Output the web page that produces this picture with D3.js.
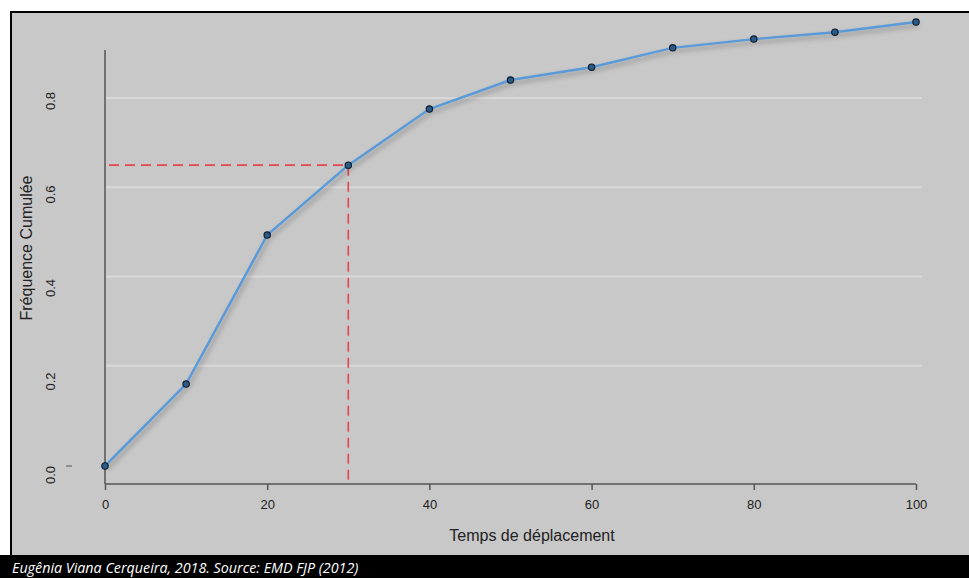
<!DOCTYPE html>
<html><head><meta charset="utf-8">
<script src="https://cdn.jsdelivr.net/npm/d3@7"></script>
<style>html,body{margin:0;padding:0;background:#fff;}svg{display:block;}</style>
</head><body>
<script>
const times = [0,10,20,30,40,50,60,70,80,90,100];
const cumFreq = [0.0,0.178,0.502,0.654,0.776,0.839,0.867,0.909,0.928,0.943,0.965];
const xTicks = [0,20,40,60,80,100];
const yTicks = [0.0,0.2,0.4,0.6,0.8];
const gridLevels = [0.2,0.4,0.6,0.8];
const refX = 30, refY = 0.654;
const xTitle = "Temps de déplacement";
const yTitle = "Fréquence Cumulée";
const caption = "Eugênia Viana Cerqueira, 2018. Source: EMD FJP (2012)";

const W = 969, H = 578;
const FONT = "'Liberation Sans', Arial, Helvetica, sans-serif";
const svg = d3.select("body").append("svg").attr("width", W).attr("height", H);
const defs = svg.append("defs");
const f = defs.append("filter").attr("id","sh").attr("x","-10%").attr("y","-10%").attr("width","130%").attr("height","130%");
f.append("feDropShadow").attr("dx",2).attr("dy",3).attr("stdDeviation",2.5).attr("flood-color","#000").attr("flood-opacity",0.3);

// panel
svg.append("rect").attr("x",11).attr("y",12).attr("width",W-11).attr("height",545).attr("fill","#c8c8c8");
svg.append("path").attr("d",`M11,${H} V12 H${W}`).attr("fill","none").attr("stroke","#000").attr("stroke-width",2);
svg.append("rect").attr("x",0).attr("y",555).attr("width",W).attr("height",H-555).attr("fill","#000");
svg.append("text").attr("x",12).attr("y",573).attr("fill","#fff").attr("font-family","'Open Sans', sans-serif")
  .attr("font-style","italic").attr("font-size",14.3).text(caption);

const x = d3.scaleLinear().domain([0,100]).range([105,916]);
const y = d3.scaleLinear().domain([0,0.8]).range([466,98]);
const yGrid = d3.scaleLinear().domain([0,0.8]).range([455,98]);
const yLab = d3.scaleLinear().domain([0,0.8]).range([475,101]);

// grid
svg.append("g").selectAll("line").data(gridLevels).join("line")
  .attr("x1",106).attr("x2",922).attr("y1",d=>yGrid(d)).attr("y2",d=>yGrid(d))
  .attr("stroke","#d9d9d9").attr("stroke-width",2);

// x axis
const xa = svg.append("g").attr("transform","translate(0,484)")
  .call(d3.axisBottom(x).tickValues(xTicks).tickSize(6).tickPadding(10).tickFormat(d3.format("d")));
xa.select(".domain").attr("stroke","#555").attr("stroke-width",1.5).attr("d",`M${x(0)},0H${x(100)}`);
xa.selectAll(".tick line").attr("stroke","#555").attr("stroke-width",1.5);
xa.selectAll(".tick text").attr("fill","#222").attr("font-family",FONT).attr("font-size",13);

// y axis line
svg.append("line").attr("x1",105).attr("x2",105).attr("y1",50).attr("y2",484).attr("stroke","#555").attr("stroke-width",1.5);
// y labels rotated
svg.append("g").selectAll("text").data(yTicks).join("text")
  .attr("transform",d=>`translate(55,${yLab(d)}) rotate(-90)`)
  .attr("text-anchor","middle").attr("fill","#222")
  .attr("font-family",FONT).attr("font-size",13)
  .text(d=>d.toFixed(1));
svg.append("line").attr("x1",66).attr("x2",72).attr("y1",y(0)).attr("y2",y(0)).attr("stroke","#555").attr("stroke-width",1);

// titles
svg.append("text").attr("x",532).attr("y",541).attr("text-anchor","middle").attr("fill","#222")
  .attr("font-family",FONT).attr("font-size",16).text(xTitle);
svg.append("text").attr("transform","translate(32,248) rotate(-90)").attr("text-anchor","middle").attr("fill","#222")
  .attr("font-family",FONT).attr("font-size",16).text(yTitle);

// reference dashed lines
svg.append("path").attr("d",`M${x(0)+4},${y(refY)}H${x(refX)}V484`)
  .attr("fill","none").attr("stroke","#e2484c").attr("stroke-width",1.6).attr("stroke-dasharray","10,6");

// line
const pts = times.map((t,i)=>[t,cumFreq[i]]);
svg.append("path").datum(pts).attr("d",d3.line().x(d=>x(d[0])).y(d=>y(d[1])))
  .attr("fill","none").attr("stroke","#5a9ad8").attr("stroke-width",2.5).attr("filter","url(#sh)");
svg.append("g").selectAll("circle").data(pts).join("circle")
  .attr("cx",d=>x(d[0])).attr("cy",d=>y(d[1])).attr("r",3.2)
  .attr("fill","#2a5a86").attr("stroke","#0e1c2c").attr("stroke-width",1.1);
</script>
</body></html>
